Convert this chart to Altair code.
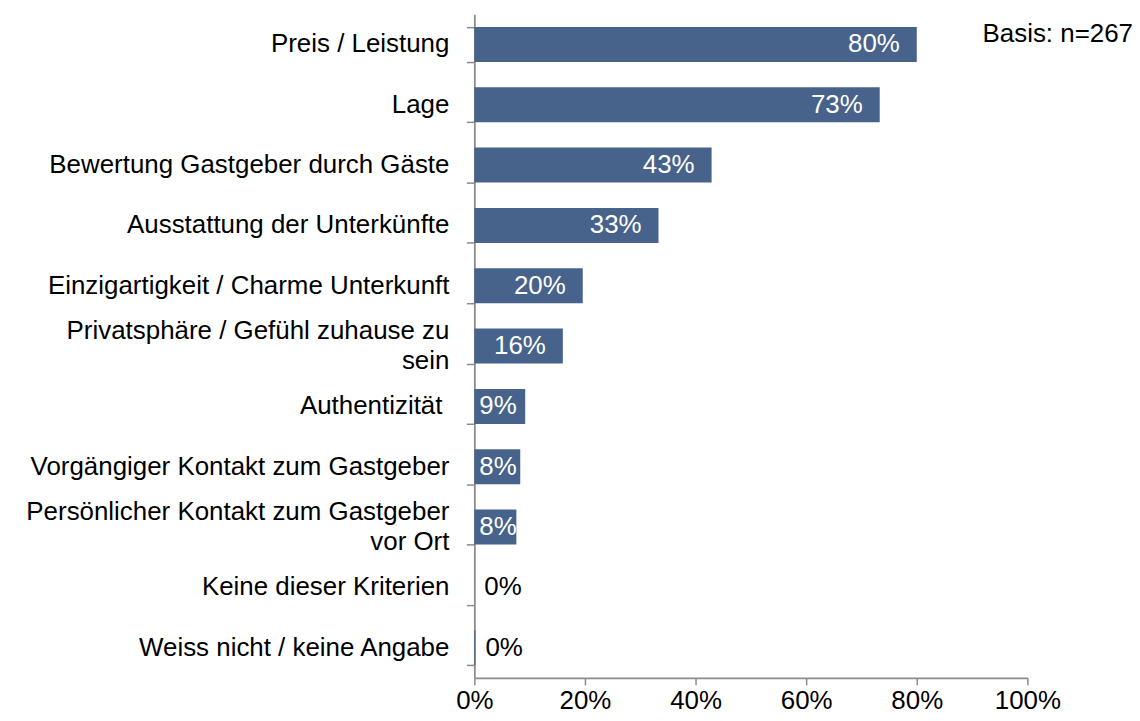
import altair as alt
import pandas as pd

categories = [
    "Preis / Leistung",
    "Lage",
    "Bewertung Gastgeber durch Gäste",
    "Ausstattung der Unterkünfte",
    "Einzigartigkeit / Charme Unterkunft",
    "Privatsphäre / Gefühl zuhause zu|sein",
    "Authentizität ",
    "Vorgängiger Kontakt zum Gastgeber",
    "Persönlicher Kontakt zum Gastgeber|vor Ort",
    "Keine dieser Kriterien",
    "Weiss nicht / keine Angabe",
]
values = [80.0, 73.3, 42.9, 33.3, 19.6, 16.0, 9.2, 8.3, 7.6, 0.0, 0.2]
x_ticks = [0, 20, 40, 60, 80, 100]
note = "Basis: n=267"

FONT = "Liberation Sans, Arial, sans-serif"
BAR = "#47628B"
GRAY = "#8C8C8C"

df = pd.DataFrame({"cat": categories, "val": values})

base = alt.Chart(df).transform_calculate(
    lbl="format(datum.val, '.0f') + '%'"
)

y_scale = alt.Scale(paddingInner=0.42, paddingOuter=0.21)

y_enc = alt.Y(
    "cat:N",
    sort=categories,
    scale=y_scale,
    axis=alt.Axis(
        title=None,
        labels=False,
        tickBand="extent",
        tickSize=8,
        tickColor=GRAY,
        domainColor=GRAY,
        tickWidth=1.5,
        domainWidth=1.8,
    ),
)

x_scale = alt.Scale(domain=[0, 100], nice=False)

bars = base.mark_bar(color=BAR).encode(
    x=alt.X(
        "val:Q",
        scale=x_scale,
        axis=alt.Axis(
            title=None,
            values=x_ticks,
            labelExpr="datum.value + '%'",
            labelFont=FONT,
            labelFontSize=26,
            labelColor="black",
            labelPadding=3,
            tickSize=7,
            tickColor=GRAY,
            domainColor=GRAY,
            tickWidth=1.5,
            domainWidth=1.8,
            grid=False,
            labelFlush=False,
        ),
    ),
    y=y_enc,
)

ycat = alt.Y("cat:N", sort=categories)

# single-line labels (trailing space in a label is kept as a small right gap)
cat_single = base.transform_filter(
    "indexof(datum.cat, '|') < 0 && substring(datum.cat, length(datum.cat) - 1) != ' '"
).mark_text(
    align="right", baseline="middle", color="black", font=FONT, fontSize=26
).encode(x=alt.value(-25), y=ycat, text="cat:N")

cat_space = base.transform_filter(
    "indexof(datum.cat, '|') < 0 && substring(datum.cat, length(datum.cat) - 1) == ' '"
).mark_text(
    align="right", baseline="middle", color="black", font=FONT, fontSize=26, dx=-7
).encode(x=alt.value(-25), y=ycat, text="cat:N")

cat_multi = base.transform_filter("indexof(datum.cat, '|') >= 0").mark_text(
    align="right", baseline="middle", color="black", font=FONT, fontSize=26,
    lineBreak="|", lineHeight=30, dy=-15
).encode(x=alt.value(-25), y=ycat, text="cat:N")

txt_big = base.transform_filter("datum.val >= 12").mark_text(
    align="right", baseline="middle", dx=-17, color="white", font=FONT, fontSize=26
).encode(x=alt.X("val:Q", scale=x_scale), y=ycat, text="lbl:N")

txt_small = base.transform_filter("datum.val >= 0.5 && datum.val < 12").mark_text(
    align="left", baseline="middle", dx=5, color="white", font=FONT, fontSize=26
).encode(x=alt.value(0), y=ycat, text="lbl:N")

txt_zero = base.transform_filter("datum.val < 0.5").mark_text(
    align="left", baseline="middle", dx=10, color="black", font=FONT, fontSize=26
).encode(x=alt.X("val:Q", scale=x_scale), y=ycat, text="lbl:N")

note_layer = alt.Chart(pd.DataFrame({"t": [note]})).mark_text(
    align="left", baseline="middle", color="black", font=FONT, fontSize=26
).encode(x=alt.value(510), y=alt.value(20), text="t:N")

chart = alt.layer(
    bars, cat_single, cat_space, cat_multi, txt_big, txt_small, txt_zero, note_layer
).properties(
    width=555,
    height=666,
    background="white",
    autosize=alt.AutoSizeParams(type="none"),
    padding={"left": 468, "top": 5, "right": 105, "bottom": 34},
).configure_view(stroke=None)

chart.save("out.html", embed_options={"renderer": "svg", "actions": False})
